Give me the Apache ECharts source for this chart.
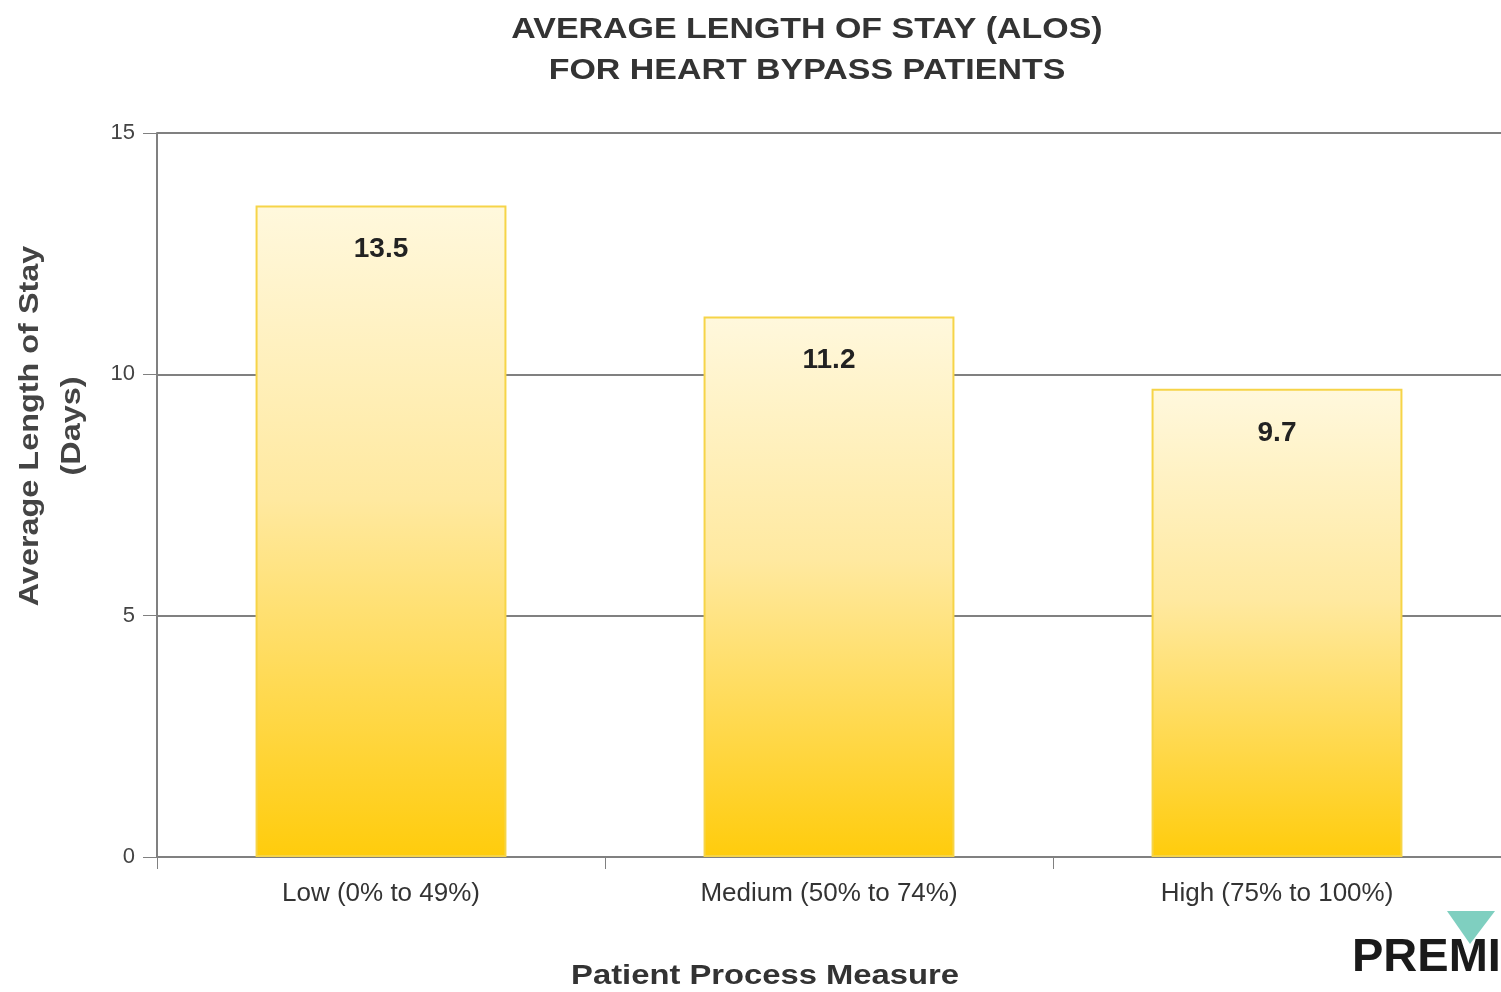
<!DOCTYPE html>
<html>
<head>
<meta charset="utf-8">
<script src="https://cdn.jsdelivr.net/npm/echarts@6/dist/echarts.min.js"></script>
<style>
  html, body { margin: 0; padding: 0; background: #fff; }
  #chart { width: 1501px; height: 992px; }
</style>
</head>
<body>
<div id="chart"></div>
<script>
var categories = ['Low (0% to 49%)', 'Medium (50% to 74%)', 'High (75% to 100%)'];
var alosDays = [13.5, 11.2, 9.7];
var yTicks = { min: 0, max: 15, interval: 5 };

var chart = echarts.init(document.getElementById('chart'));

var option = {
    backgroundColor: '#fff',
    animation: false,
    grid: {
        left: 157,
        right: 0,
        top: 133,
        bottom: 135
    },
    xAxis: {
        type: 'category',
        data: categories,
        axisLine: { lineStyle: { color: '#808080', width: 2 } },
        axisTick: { show: true, length: 12, lineStyle: { color: '#808080', width: 1 } },
        axisLabel: {
            margin: 24,
            fontFamily: 'Liberation Sans',
            fontSize: 26,
            color: '#333'
        }
    },
    yAxis: {
        type: 'value',
        min: yTicks.min,
        max: yTicks.max,
        interval: yTicks.interval,
        axisLine: { show: true, lineStyle: { color: '#808080', width: 2 } },
        axisTick: { show: true, length: 14, lineStyle: { color: '#808080' } },
        splitLine: { lineStyle: { color: '#808080', width: 2 } },
        axisLabel: {
            margin: 22,
            fontFamily: 'Liberation Sans',
            fontSize: 22,
            color: '#444'
        }
    },
    series: [{
        type: 'bar',
        data: alosDays,
        barWidth: '56%',
        itemStyle: {
            color: new echarts.graphic.LinearGradient(0, 0, 0, 1, [
                { offset: 0, color: '#FFF8DD' },
                { offset: 0.45, color: '#FFE9A0' },
                { offset: 1, color: '#FFCC0C' }
            ]),
            borderColor: '#F6D448',
            borderWidth: 2
        },
        label: {
            show: true,
            position: 'insideTop',
            distance: 30,
            fontFamily: 'Liberation Sans',
            fontSize: 28,
            fontWeight: 'bold',
            color: '#222'
        }
    }],
    graphic: [
        // title, stretched a bit wider like the original
        {
            type: 'text',
            x: 807,
            y: 50,
            scaleX: 1.17,
            style: {
                text: 'AVERAGE LENGTH OF STAY (ALOS)\nFOR HEART BYPASS PATIENTS',
                fontFamily: 'Liberation Sans',
                fontSize: 29,
                fontWeight: 'bold',
                fill: '#333',
                align: 'center',
                verticalAlign: 'middle',
                lineHeight: 41
            }
        },
        {
            type: 'text',
            x: 765,
            y: 976,
            scaleX: 1.17,
            style: {
                text: 'Patient Process Measure',
                fontFamily: 'Liberation Sans',
                fontSize: 28,
                fontWeight: 'bold',
                fill: '#333',
                align: 'center',
                verticalAlign: 'middle'
            }
        },
        {
            type: 'text',
            x: 52,
            y: 426,
            rotation: Math.PI / 2,
            scaleX: 1.2,
            style: {
                text: 'Average Length of Stay\n(Days)',
                fontFamily: 'Liberation Sans',
                fontSize: 27,
                fontWeight: 'bold',
                fill: '#444',
                align: 'center',
                verticalAlign: 'middle',
                lineHeight: 42
            }
        },
        {
            type: 'text',
            left: 1352,
            top: 935,
            style: {
                text: 'PREMI',
                fontFamily: 'Liberation Sans',
                fontSize: 47,
                fontWeight: 'bold',
                fill: '#1a1a1a'
            }
        },
        {
            type: 'polygon',
            shape: { points: [[1447, 911], [1495, 911], [1470, 944]] },
            style: { fill: '#7fcfc0' }
        }
    ]
};

chart.setOption(option);
</script>
</body>
</html>
